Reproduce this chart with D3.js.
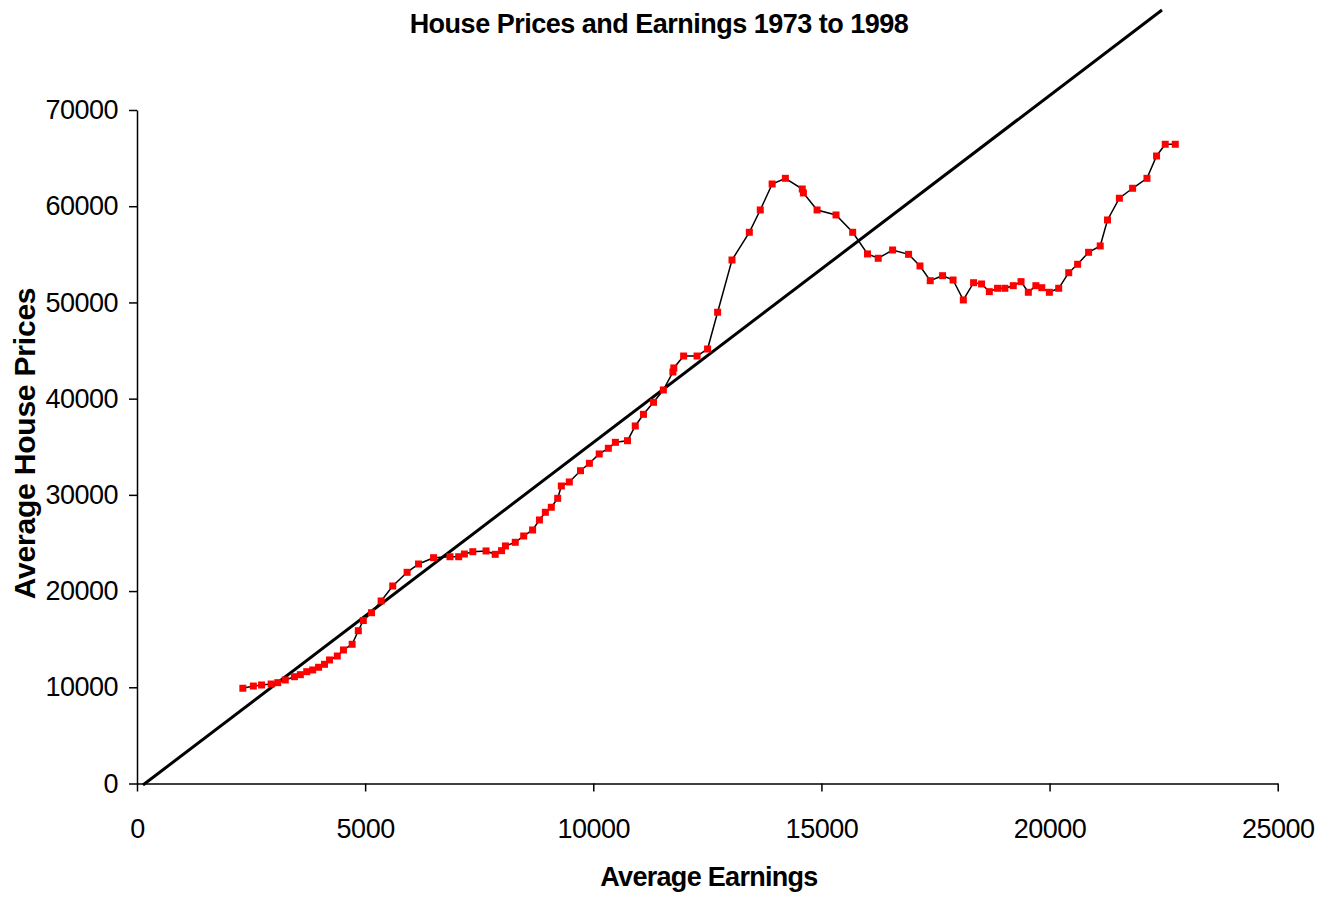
<!DOCTYPE html>
<html>
<head>
<meta charset="utf-8">
<script src="https://cdn.jsdelivr.net/npm/d3@7"></script>
<style>
  html, body { margin: 0; padding: 0; background: #ffffff; }
  svg { display: block; }
</style>
</head>
<body>
<svg id="chart" width="1331" height="898"></svg>
<script>
// ---- Data ----
const chartTitle = "House Prices and Earnings 1973 to 1998";
const xTitle = "Average Earnings";
const yTitle = "Average House Prices";

const xTicks = [0, 5000, 10000, 15000, 20000, 25000];
const yTicks = [0, 10000, 20000, 30000, 40000, 50000, 60000, 70000];

const earnings = [
  2320, 2550, 2730, 2940, 3085, 3250, 3450, 3580, 3720, 3850,
  3980, 4110, 4220, 4390, 4525, 4715, 4850, 4960, 5140, 5350,
  5605, 5920, 6170, 6500, 6860, 7050, 7175, 7360, 7650, 7850,
  7990, 8075, 8290, 8475, 8670, 8820, 8950, 9080, 9220, 9300,
  9475, 9720, 9915, 10130, 10330, 10485, 10750, 10920, 11100, 11320,
  11535, 11745, 11765, 11980, 12275, 12505, 12725, 13040, 13420, 13660,
  13920, 14210, 14580, 14605, 14905, 15320, 15685, 16010, 16245, 16560,
  16910, 17160, 17385, 17655, 17885, 18110, 18335, 18510, 18680, 18860,
  19020, 19205, 19375, 19535, 19700, 19830, 19995, 20200, 20420, 20615,
  20855, 21110, 21270, 21530, 21820, 22135, 22345, 22535, 22755
];
const housePrices = [
  9900, 10130, 10240, 10340, 10480, 10760, 11100, 11310, 11620, 11800,
  12080, 12390, 12840, 13250, 13880, 14470, 15880, 16940, 17750, 18970,
  20530, 21950, 22815, 23470, 23570, 23570, 23850, 24090, 24170, 23820,
  24200, 24690, 25070, 25725, 26350, 27390, 28190, 28710, 29640, 30920,
  31340, 32510, 33280, 34250, 34840, 35460, 35630, 37160, 38370, 39620,
  40900, 42770, 43190, 44430, 44430, 45160, 48980, 54410, 57290, 59610,
  62310, 62900, 61790, 61380, 59610, 59090, 57290, 55040, 54590, 55450,
  55000, 53790, 52260, 52780, 52330, 50255, 52050, 51920, 51120, 51470,
  51470, 51740, 52160, 51055, 51740, 51530, 51055, 51470, 53090, 53965,
  55210, 55870, 58570, 60830, 61865, 62900, 65220, 66440, 66440
];

// Straight reference line (earnings -> house price) end points
const refLineEarnings = [131, 22464];
const refLinePrices = [-156, 80394];

// ---- Drawing ----
const FONT = "'Liberation Sans', Arial, Helvetica, sans-serif";
const svg = d3.select("#chart");
svg.append("rect").attr("width", 1331).attr("height", 898).attr("fill", "#ffffff");

const x = d3.scaleLinear().domain([0, 25000]).range([137, 1277.7]);
const y = d3.scaleLinear().domain([0, 70000]).range([783.5, 110]);

// Title
svg.append("text")
  .attr("x", 659).attr("y", 33)
  .attr("text-anchor", "middle")
  .attr("font-family", FONT).attr("font-weight", "bold")
  .attr("font-size", 27).attr("letter-spacing", "-0.5px")
  .attr("fill", "#000").text(chartTitle);

// Axes
const xAxis = d3.axisBottom(x).tickValues(xTicks).tickSize(8).tickSizeOuter(0).tickPadding(27).tickFormat(d3.format("d"));
const yAxis = d3.axisLeft(y).tickValues(yTicks).tickSize(8).tickSizeOuter(0).tickPadding(11).tickFormat(d3.format("d"));

const gx = svg.append("g").attr("transform", `translate(0,${y(0)})`).call(xAxis);
const gy = svg.append("g").attr("transform", `translate(${x(0)},0)`).call(yAxis);

[gx, gy].forEach(g => {
  g.select(".domain").attr("stroke", "#000").attr("stroke-width", 1.5);
  g.selectAll(".tick line").attr("stroke", "#000").attr("stroke-width", 1.5);
  g.selectAll(".tick text")
    .attr("font-family", FONT).attr("font-size", 27)
    .attr("letter-spacing", "-0.5px").attr("fill", "#000");
});

// Axis titles
svg.append("text")
  .attr("x", 709).attr("y", 886)
  .attr("text-anchor", "middle")
  .attr("font-family", FONT).attr("font-weight", "bold")
  .attr("font-size", 27).attr("letter-spacing", "-0.7px")
  .attr("fill", "#000").text(xTitle);

svg.append("text")
  .attr("transform", "translate(35,443.5) rotate(-90)")
  .attr("text-anchor", "middle")
  .attr("font-family", FONT).attr("font-weight", "bold")
  .attr("font-size", 30).attr("letter-spacing", "-0.2px")
  .attr("fill", "#000").text(yTitle);

// Reference straight line
const refData = refLineEarnings.map((e, i) => ({ e: e, p: refLinePrices[i] }));
svg.append("path")
  .datum(refData)
  .attr("fill", "none").attr("stroke", "#000").attr("stroke-width", 3)
  .attr("d", d3.line().x(d => x(d.e)).y(d => y(d.p)));

// Data series
const series = earnings.map((e, i) => ({ e: e, p: housePrices[i] }));
svg.append("path")
  .datum(series)
  .attr("fill", "none").attr("stroke", "#000").attr("stroke-width", 1.5)
  .attr("d", d3.line().x(d => x(d.e)).y(d => y(d.p)));

const ms = 7;
svg.append("g").selectAll("rect")
  .data(series).join("rect")
  .attr("x", d => x(d.e) - ms / 2)
  .attr("y", d => y(d.p) - ms / 2)
  .attr("width", ms).attr("height", ms)
  .attr("fill", "#ff0000");
</script>
</body>
</html>
